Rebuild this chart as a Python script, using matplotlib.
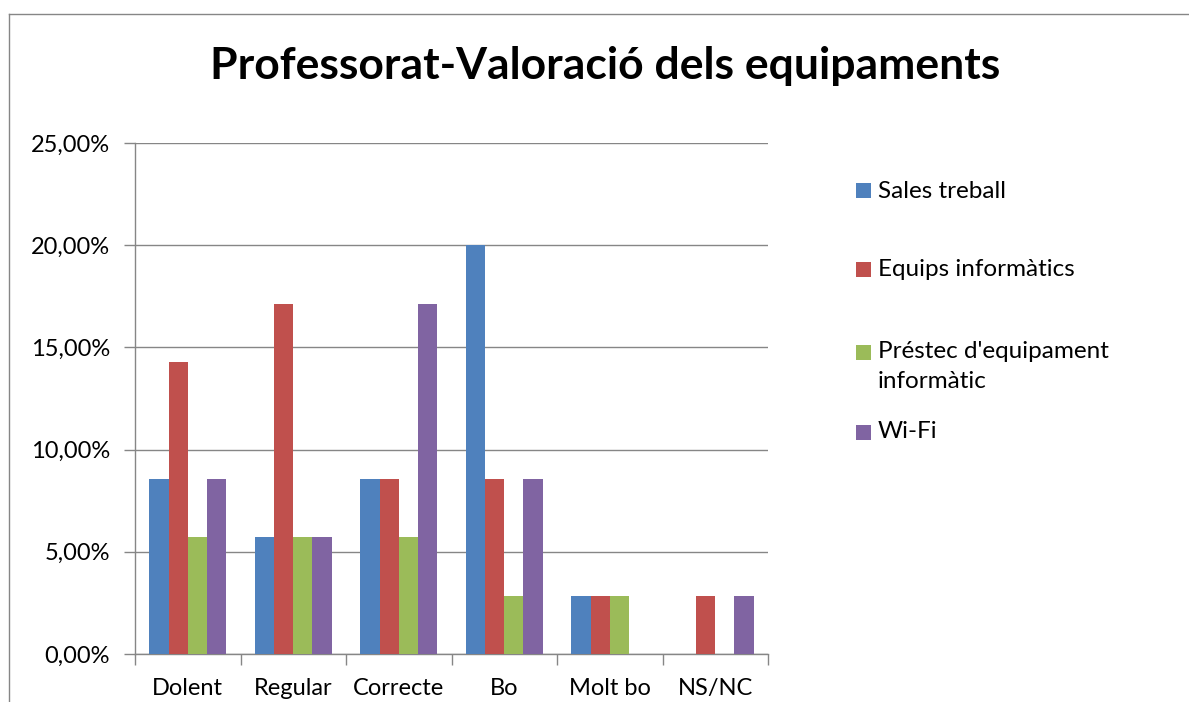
import matplotlib
matplotlib.use("Agg")
import matplotlib.pyplot as plt
import numpy as np
from matplotlib.patches import Rectangle
from matplotlib.lines import Line2D
from matplotlib.ticker import FuncFormatter, FixedLocator

categories = ["Dolent", "Regular", "Correcte", "Bo", "Molt bo", "NS/NC"]
series_names = ["Sales treball", "Equips informàtics", "Préstec d'equipament\ninformàtic", "Wi-Fi"]
sales_treball = [8.57, 5.71, 8.57, 20.00, 2.86, 0.0]
equips_informatics = [14.29, 17.14, 8.57, 8.57, 2.86, 2.86]
prestec_equipament = [5.71, 5.71, 5.71, 2.86, 2.86, 0.0]
wifi = [8.57, 5.71, 17.14, 8.57, 0.0, 2.86]
yticks = [0, 5, 10, 15, 20, 25]
colors = ["#4F81BD", "#C0504D", "#9BBB59", "#8064A2"]
title = "Professorat-Valoració dels equipaments"

series = [sales_treball, equips_informatics, prestec_equipament, wifi]

plt.rcParams['font.family'] = ['Lato', 'DejaVu Sans']
W, H = 1189, 702
fig = plt.figure(figsize=(W / 100, H / 100), dpi=100)
ax = fig.add_axes([135 / W, 1 - 654 / H, (768 - 135) / W, (654 - 143) / H])

n = len(series)
bw = 1 / 5.5
x = np.arange(len(categories))
for i, (vals, c) in enumerate(zip(series, colors)):
    ax.bar(x + (i - (n - 1) / 2) * bw, vals, width=bw, color=c, zorder=3)

ax.set_xlim(-0.5, len(categories) - 0.5)
ax.set_ylim(0, 25)
ax.set_yticks(yticks)
ax.yaxis.set_major_formatter(FuncFormatter(lambda v, p: f"{v:.2f}".replace(".", ",") + "%"))
ax.grid(axis="y", color="#868686", linewidth=1, zorder=0)
ax.set_xticks(x)
ax.set_xticklabels(categories)
ax.xaxis.set_minor_locator(FixedLocator(np.arange(-0.5, len(categories), 1)))
ax.tick_params(axis="x", which="major", length=0, pad=17, labelsize=17)
ax.tick_params(axis="x", which="minor", length=8, color="#868686", width=1)
ax.tick_params(axis="y", length=8, color="#868686", width=1, pad=10, labelsize=17)
for s in ["top", "right"]:
    ax.spines[s].set_visible(False)
for s in ["left", "bottom"]:
    ax.spines[s].set_color("#868686")
    ax.spines[s].set_linewidth(1)

fig.text(605.5 / W, 1 - 66 / H, title, ha="center", va="center", fontsize=32, fontweight="bold")

# legend (manual)
ys = [191, 270, 352, 432]
for name, c, yc in zip(series_names, colors, ys):
    fig.patches.append(Rectangle((856 / W, 1 - (yc + 7.5) / H), 15 / W, 15 / H,
                                 transform=fig.transFigure, facecolor=c, edgecolor="none"))
    for j, line in enumerate(name.split("\n")):
        fig.text(878 / W, 1 - (yc + 30 * j) / H, line, ha="left", va="center", fontsize=17.5)

# outer frame
fig.add_artist(Line2D([8.5 / W, 8.5 / W], [0, 1 - 13.5 / H], transform=fig.transFigure, color="#868686", lw=1))
fig.add_artist(Line2D([8.5 / W, 1], [1 - 13.5 / H, 1 - 13.5 / H], transform=fig.transFigure, color="#868686", lw=1))

fig.savefig("out.png", dpi=100)
